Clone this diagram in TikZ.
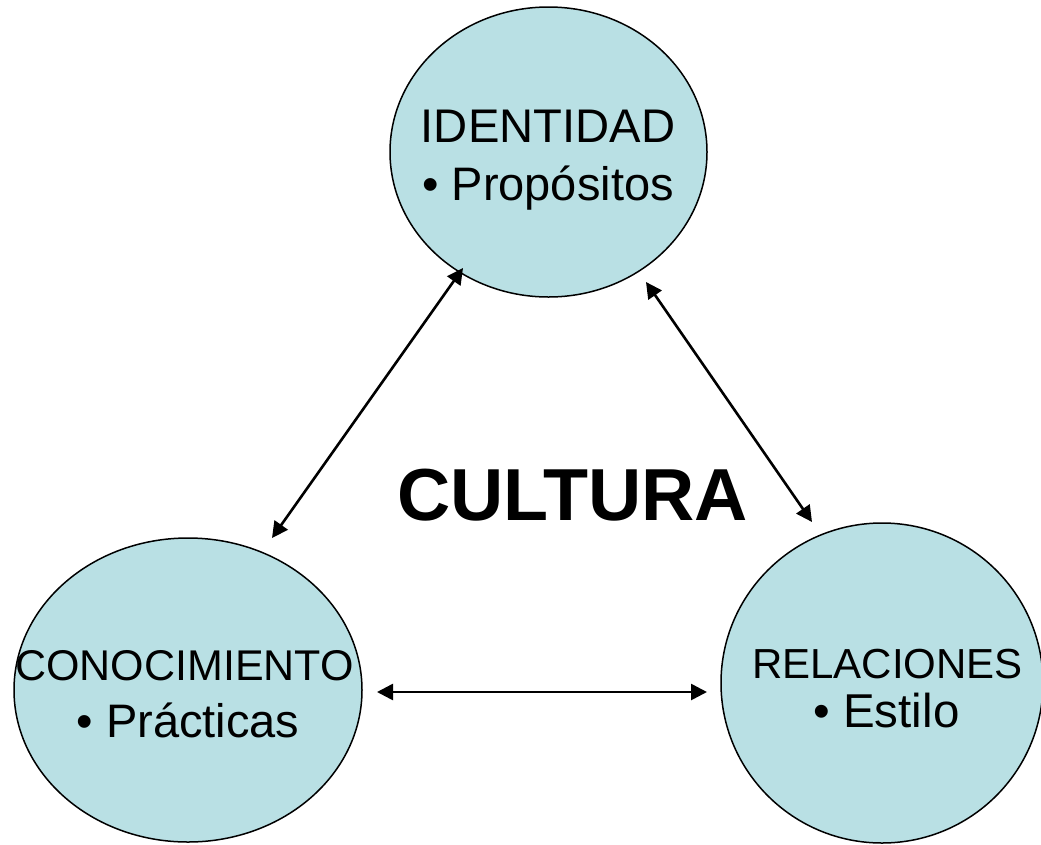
\documentclass[tikz,border=0pt]{standalone}
\usepackage{fontspec}
\setmainfont{Liberation Sans}
\usetikzlibrary{shapes.geometric,arrows.meta}
\definecolor{bubble}{RGB}{185,224,228}
\tikzset{
  bubble/.style={ellipse,draw=black,line width=1.5pt,fill=bubble,inner sep=0pt},
  lbl/.style={anchor=base,inner sep=0pt,text=black},
  link/.style={{Triangle[length=16pt,width=16pt]}-{Triangle[length=16pt,width=16pt]},line width=2.6pt,black}
}
\begin{document}
\begin{tikzpicture}[x=1pt,y=-1pt]
\useasboundingbox (0,0) rectangle (1041,844);
\node[bubble,minimum width=317pt,minimum height=290pt] (top) at (548.5,152) {};
\node[bubble,minimum width=348pt,minimum height=304pt] (left) at (188,690) {};
\node[bubble,minimum width=322pt,minimum height=320pt] (right) at (882,683) {};
\node[lbl,font=\fontsize{47.2}{46}\selectfont] (t1) at (548,142) {IDENTIDAD};
\node[lbl,font=\fontsize{47}{46}\selectfont] (t2) at (548,200) {• Propósitos};
\node[lbl,font=\fontsize{43}{41}\selectfont] (l1) at (184.5,680) {CONOCIMIENTO};
\node[lbl,font=\fontsize{47}{46}\selectfont] (l2) at (188,737) {• Prácticas};
\node[lbl,font=\fontsize{42}{41}\selectfont] (r1) at (887.5,678) {RELACIONES};
\node[lbl,font=\fontsize{47.5}{46}\selectfont] (r2) at (886.5,727) {• Estilo};
\node[lbl,font=\fontsize{73.7}{72}\selectfont\bfseries] (cult) at (572.5,520) {CULTURA};
\coordinate (a1) at (463,268);
\coordinate (b1) at (272,538);
\coordinate (a2) at (646,282);
\coordinate (b2) at (812,522);
\coordinate (a3) at (377,692);
\coordinate (b3) at (707,692);
\draw[link] (a1) -- (b1);
\draw[link] (a2) -- (b2);
\draw[link] (a3) -- (b3);
\end{tikzpicture}
\end{document}
